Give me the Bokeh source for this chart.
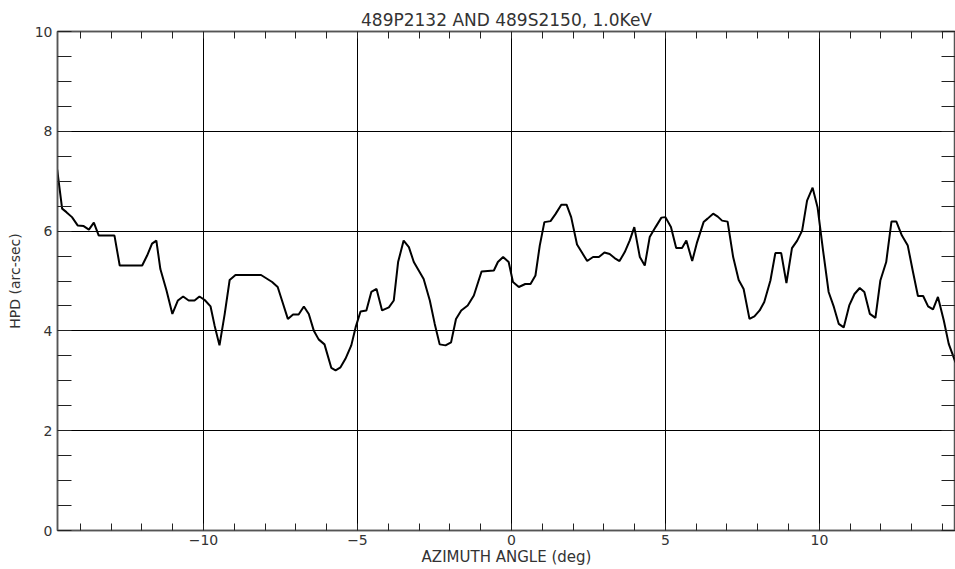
import numpy as np
from bokeh.plotting import figure
from bokeh.models import Range1d, SingleIntervalTicker, FixedTicker, LinearAxis
from bokeh.embed import file_html
from bokeh.resources import INLINE

title_text = "489P2132 AND 489S2150, 1.0KeV"
x_label = "AZIMUTH ANGLE (deg)"
y_label = "HPD (arc-sec)"
x_tick_values = [-10, -5, 0, 5, 10]
x_tick_labels = ["\u221210", "\u22125", "0", "5", "10"]

azimuth = [
    -14.75, -14.59, -14.45, -14.27, -14.08, -13.89, -13.72, -13.56, -13.40, -12.89,
    -12.72, -11.99, -11.83, -11.67, -11.53, -11.40, -11.20, -11.01, -10.83, -10.66,
    -10.48, -10.29, -10.13, -9.96, -9.77, -9.64, -9.48, -9.31, -9.15, -8.96,
    -8.13, -7.77, -7.59, -7.45, -7.26, -7.09, -6.91, -6.74, -6.58, -6.42,
    -6.26, -6.07, -5.85, -5.71, -5.55, -5.39, -5.20, -5.06, -4.90, -4.71,
    -4.55, -4.38, -4.20, -3.98, -3.82, -3.68, -3.50, -3.33, -3.17, -3.01,
    -2.85, -2.65, -2.49, -2.33, -2.14, -1.96, -1.80, -1.63, -1.42, -1.22,
    -0.97, -0.57, -0.44, -0.27, -0.09, 0.05, 0.24, 0.45, 0.62, 0.78,
    0.92, 1.07, 1.27, 1.43, 1.62, 1.79, 1.94, 2.13, 2.30, 2.46,
    2.65, 2.84, 3.02, 3.19, 3.35, 3.51, 3.68, 3.84, 3.99, 4.17,
    4.33, 4.49, 4.68, 4.87, 5.00, 5.18, 5.35, 5.54, 5.68, 5.87,
    6.03, 6.24, 6.37, 6.55, 6.70, 6.84, 7.02, 7.20, 7.38, 7.54,
    7.73, 7.89, 8.06, 8.21, 8.41, 8.57, 8.76, 8.93, 9.11, 9.28,
    9.44, 9.60, 9.78, 9.94, 10.12, 10.30, 10.47, 10.63, 10.79, 10.97,
    11.14, 11.31, 11.46, 11.64, 11.82, 11.98, 12.17, 12.34, 12.50, 12.68,
    12.87, 13.04, 13.20, 13.37, 13.53, 13.69, 13.85, 14.04, 14.20, 14.42,
]
hpd = [
    7.23, 6.45, 6.38, 6.28, 6.11, 6.10, 6.03, 6.17, 5.91, 5.91,
    5.31, 5.31, 5.51, 5.75, 5.81, 5.24, 4.81, 4.34, 4.61, 4.69,
    4.61, 4.61, 4.69, 4.62, 4.49, 4.11, 3.71, 4.34, 5.02, 5.12,
    5.12, 4.98, 4.88, 4.61, 4.24, 4.33, 4.33, 4.49, 4.34, 4.01,
    3.83, 3.73, 3.26, 3.21, 3.27, 3.44, 3.71, 4.07, 4.39, 4.41,
    4.78, 4.84, 4.41, 4.47, 4.61, 5.38, 5.81, 5.68, 5.38, 5.21,
    5.04, 4.61, 4.14, 3.73, 3.71, 3.77, 4.24, 4.41, 4.51, 4.71,
    5.19, 5.21, 5.38, 5.48, 5.38, 4.98, 4.88, 4.94, 4.94, 5.11,
    5.71, 6.18, 6.20, 6.34, 6.53, 6.53, 6.28, 5.73, 5.56, 5.40,
    5.48, 5.48, 5.57, 5.54, 5.46, 5.40, 5.58, 5.81, 6.08, 5.48,
    5.31, 5.88, 6.08, 6.27, 6.28, 6.08, 5.66, 5.66, 5.81, 5.40,
    5.78, 6.18, 6.25, 6.35, 6.29, 6.21, 6.19, 5.48, 5.02, 4.84,
    4.24, 4.29, 4.41, 4.58, 5.01, 5.56, 5.56, 4.96, 5.66, 5.81,
    6.01, 6.61, 6.87, 6.48, 5.61, 4.78, 4.48, 4.14, 4.07, 4.51,
    4.74, 4.86, 4.78, 4.34, 4.26, 5.01, 5.38, 6.19, 6.19, 5.91,
    5.71, 5.18, 4.70, 4.70, 4.49, 4.43, 4.68, 4.21, 3.74, 3.37,
]

FONT = "DejaVu Sans"
TXT = "#333333"
AX = "#555555"

p = figure(
    frame_width=898, frame_height=499,
    x_range=Range1d(-14.74, 14.42), y_range=Range1d(0, 10),
    output_backend="svg", toolbar_location=None,
    min_border_left=57, min_border_right=0, min_border_top=31, min_border_bottom=39,
    x_axis_location=None, y_axis_location=None,
    background_fill_color="white", border_fill_color="white",
)
p.outline_line_color = AX
p.outline_line_width = 1.5

p.title.text = title_text
p.title.align = "center"
p.title.text_font = FONT
p.title.text_font_size = "17px"
p.title.text_font_style = "normal"
p.title.text_color = TXT
p.title.standoff = 4

xt = SingleIntervalTicker(interval=5, num_minor_ticks=5)
yt = SingleIntervalTicker(interval=2, num_minor_ticks=4)
# label-free tickers for the top and right edges (minor ticks only)
xt_edge = FixedTicker(ticks=[], minor_ticks=list(np.arange(-14, 15, 1.0)))
yt_edge = FixedTicker(ticks=[], minor_ticks=list(np.arange(0, 10.01, 0.5)))

def style(ax, minor_len):
    ax.axis_line_color = AX
    ax.axis_line_width = 1.5
    ax.major_tick_in = 0
    ax.major_tick_out = 0
    ax.minor_tick_in = minor_len
    ax.minor_tick_out = 0
    ax.minor_tick_line_color = "#222222"
    ax.minor_tick_line_width = 1
    ax.major_label_text_font = FONT
    ax.major_label_text_font_size = "14px"
    ax.major_label_text_color = TXT
    ax.axis_label_text_font = FONT
    ax.axis_label_text_font_style = "normal"
    ax.axis_label_text_color = TXT

bottom = LinearAxis(ticker=xt, axis_label=x_label)
style(bottom, 7)
bottom.major_label_overrides = dict(zip(x_tick_values, x_tick_labels))
bottom.major_label_standoff = 4
bottom.axis_label_standoff = 0
bottom.axis_label_text_font_size = "15px"
p.add_layout(bottom, "below")

top = LinearAxis(ticker=xt_edge, major_label_standoff=0)
style(top, 7)
p.add_layout(top, "above")

left = LinearAxis(ticker=yt, axis_label=y_label)
style(left, 14)
left.major_label_standoff = 5
left.axis_label_standoff = 9
left.axis_label_text_font_size = "14px"
p.add_layout(left, "left")

right = LinearAxis(ticker=yt_edge, major_label_standoff=0)
style(right, 14)
p.add_layout(right, "right")

p.xgrid.ticker = xt
p.ygrid.ticker = yt
for g in (p.xgrid, p.ygrid):
    g.grid_line_color = "black"
    g.grid_line_width = 1

p.line(azimuth, hpd, line_color="black", line_width=2)

open("out.html", "w").write(file_html(p, INLINE))
